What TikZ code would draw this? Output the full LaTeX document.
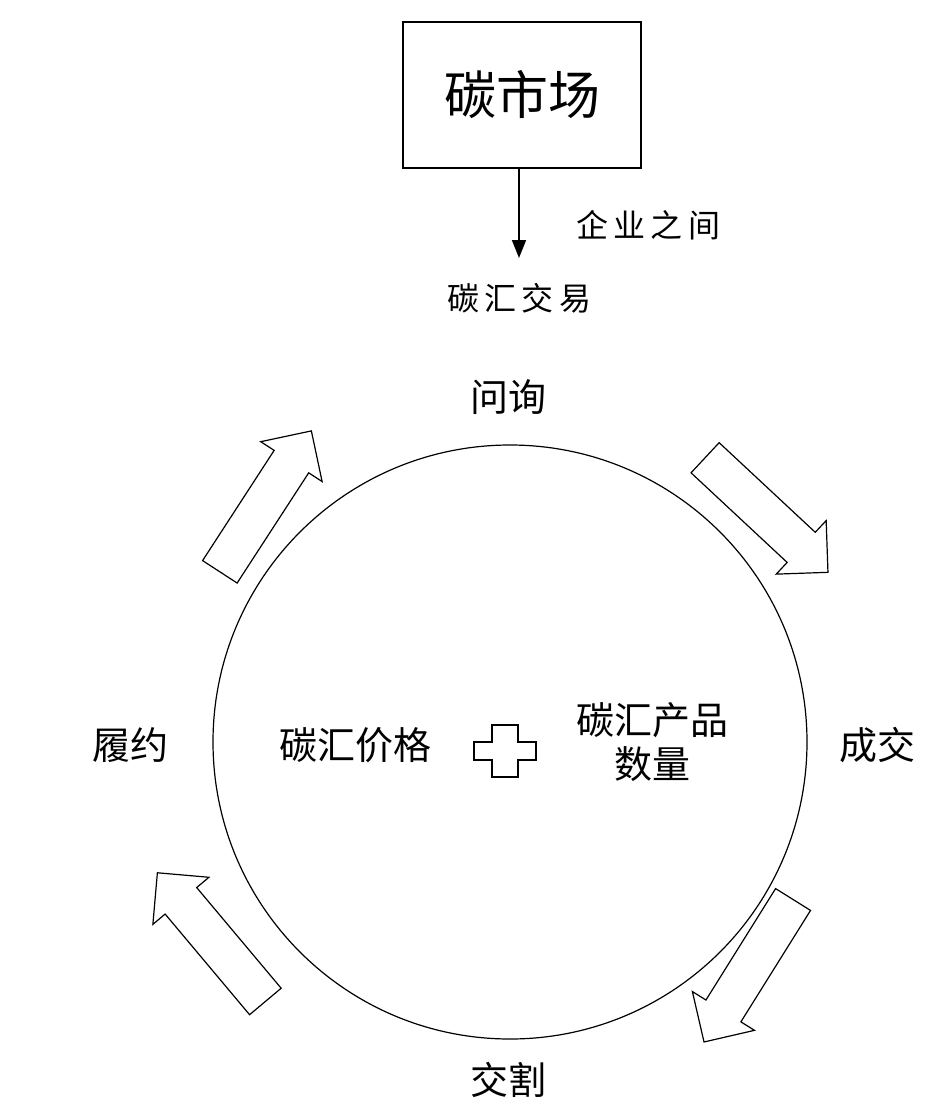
\documentclass[tikz,border=0pt]{standalone}
\usepackage{fontspec}
\newfontfamily\cjk{Noto Sans CJK SC}
\usetikzlibrary{shapes.arrows,arrows.meta}
\begin{document}
\begin{tikzpicture}[x=0.5pt,y=-0.5pt,
  lab/.style={font=\cjk\fontsize{19}{22}\selectfont},
  harrow/.style={draw,single arrow,minimum height=84pt,single arrow head extend=8pt,line width=0.6pt,inner xsep=0pt,inner ysep=10pt,anchor=center}]
\useasboundingbox (0,0) rectangle (948,1120);
\node[draw,line width=0.8pt,minimum width=119pt,minimum height=73pt,font=\cjk\fontsize{26}{30}\selectfont] (mkt) at (522,95) {碳市场};
\coordinate (tip) at (519,258);
\draw[line width=0.8pt,-{Triangle[length=9pt,width=7pt]}] (mkt.south -| tip) -- (tip);
\node[font=\cjk\fontsize{16}{19}\selectfont] (qy) at (648,225) {企\,业\,之\,间};
\node[font=\cjk\fontsize{16}{19}\selectfont] (jy) at (519,298) {碳\,汇\,交\,易};
\node[draw,circle,line width=0.6pt,minimum size=297pt,inner sep=0pt] (c) at (510,742) {};
\node[lab] (wx) at (508,397) {问询};
\node[lab] (cj) at (877,745) {成交};
\node[lab] (jg) at (508,1080) {交割};
\node[lab] (ly) at (130,745) {履约};
\node[lab] (jgj) at (355,745) {碳汇价格};
\node[lab,align=center] (cp) at (652,742) {碳汇产品\\数量};
\draw[line width=0.6pt] (492,725) -- (518,725) -- (518,742) -- (536,742) -- (536,760) -- (518,760) -- (518,777) -- (492,777) -- (492,760) -- (474,760) -- (474,742) -- (492,742) -- cycle;
\node[harrow,rotate=57] (a1) at (260,510) {};
\node[harrow,rotate=-43] (a2) at (759,508) {};
\node[harrow,rotate=-122] (a3) at (754,962) {};
\node[harrow,rotate=130] (a4) at (218,945) {};
\end{tikzpicture}
\end{document}
